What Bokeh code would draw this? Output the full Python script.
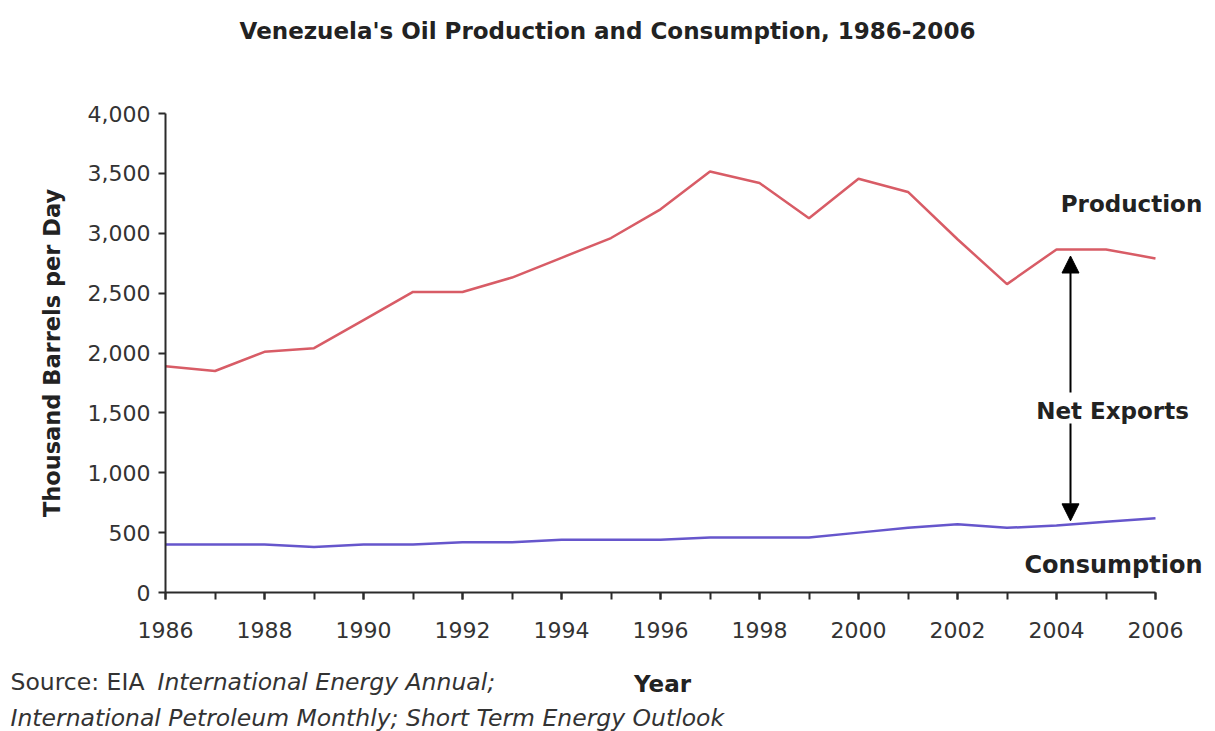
import numpy as np
from bokeh.plotting import figure
from bokeh.layouts import column
from bokeh.models import (Range1d, SingleIntervalTicker, NumeralTickFormatter,
                          Label, Arrow, NormalHead)
from bokeh.embed import file_html
from bokeh.resources import INLINE

# Venezuela oil balance, thousand barrels per day
years = [1986, 1987, 1988, 1989, 1990, 1991, 1992, 1993, 1994, 1995, 1996,
         1997, 1998, 1999, 2000, 2001, 2002, 2003, 2004, 2005, 2006]
production = [1890, 1850, 2010, 2040, 2275, 2510, 2510, 2630, 2795, 2960, 3200,
              3515, 3420, 3125, 3455, 3345, 2950, 2575, 2865, 2865, 2790]
consumption = [400, 400, 400, 380, 400, 400, 420, 420, 440, 440, 440,
               460, 460, 460, 500, 540, 570, 540, 560, 590, 620]

title_text = "Venezuela's Oil Production and Consumption, 1986-2006"
y_title = "Thousand Barrels per Day"
x_title = "Year"
source_lead = "Source: EIA "
source_rest = "International Energy Annual;"
source_line2 = "International Petroleum Monthly; Short Term Energy Outlook"

W = 1215
HEAD_H, MAIN_H, FOOT_H = 100, 560, 71
LEFT = 165                        # frame left edge
FRAME_TOP, FRAME_BOTTOM = 113, 592  # frame edges on the full page
AXIS_RIGHT_PX = 1155              # where the x axis ends on the page
X0, X1, Y0, Y1 = 1986, 2006, 0, 4000

top_border = FRAME_TOP - HEAD_H
bottom_border = HEAD_H + MAIN_H - FRAME_BOTTOM
fh = FRAME_BOTTOM - FRAME_TOP
px_per_year = (AXIS_RIGHT_PX - LEFT) / (X1 - X0)
px_per_unit = fh / (Y1 - Y0)


def dx(px):
    # page pixel column -> year coordinate
    return X0 + (px - LEFT) / px_per_year


def dy(py):
    # page pixel row -> value coordinate
    return Y0 + (FRAME_BOTTOM - py) / px_per_unit


bold = dict(text_font="DejaVu Sans", text_font_style="bold", text_color="#222222",
            text_align="center", text_baseline="middle", text_font_size="23px")


def strip(height, top):
    # plain text strip whose data coordinates are page pixels
    s = figure(width=W, height=height, x_range=Range1d(0, W),
               y_range=Range1d(top + height, top),
               x_axis_type=None, y_axis_type=None,
               output_backend="svg", toolbar_location=None, min_border=0)
    s.frame_align = False
    s.outline_line_color = None
    s.xgrid.visible = False
    s.ygrid.visible = False
    return s


# Header with the chart title
head = strip(HEAD_H, 0)
head.add_layout(Label(x=607, y=30, text=title_text, **bold))

# Main chart
p = figure(width=W, height=MAIN_H,
           x_range=Range1d(X0, dx(W)), y_range=Range1d(Y0, Y1),
           output_backend="svg", toolbar_location=None,
           min_border_left=LEFT, min_border_right=0,
           min_border_top=top_border, min_border_bottom=bottom_border)
p.frame_align = False
p.outline_line_color = None
p.xgrid.visible = False
p.ygrid.visible = False
p.background_fill_color = "white"
p.border_fill_color = "white"

for ax in (p.xaxis[0], p.yaxis[0]):
    ax.axis_line_color = "#2b2b2b"
    ax.axis_line_width = 2
    ax.major_tick_line_color = "#2b2b2b"
    ax.major_tick_line_width = 2
    ax.major_tick_in = 0
    ax.major_tick_out = 7
    ax.major_label_text_font = "DejaVu Sans"
    ax.major_label_text_font_size = "22px"
    ax.major_label_text_color = "#333333"

p.xaxis.bounds = (X0, X1)
p.xaxis.ticker = SingleIntervalTicker(interval=2, num_minor_ticks=2)
p.xaxis.minor_tick_line_color = "#2b2b2b"
p.xaxis.minor_tick_line_width = 2
p.xaxis.minor_tick_in = 0
p.xaxis.minor_tick_out = 7
p.xaxis.major_label_standoff = 22

p.yaxis.ticker = SingleIntervalTicker(interval=500, num_minor_ticks=0)
p.yaxis.minor_tick_line_color = None
p.yaxis.formatter = NumeralTickFormatter(format="0,0")
p.yaxis.major_label_standoff = 8
p.yaxis.axis_label = y_title
p.yaxis.axis_label_text_font = "DejaVu Sans"
p.yaxis.axis_label_text_font_style = "bold"
p.yaxis.axis_label_text_font_size = "22.5px"
p.yaxis.axis_label_text_color = "#222222"
p.yaxis.axis_label_standoff = 20

p.line(years, production, line_color="#d85c66", line_width=2.5)
p.line(years, consumption, line_color="#6656cc", line_width=2.5)

p.add_layout(Label(x=dx(1131), y=dy(203), text="Production", **bold))
p.add_layout(Label(x=dx(1112), y=dy(410), text="Net Exports", **bold))
p.add_layout(Label(x=dx(1113), y=dy(564), text="Consumption",
                   **{**bold, "text_font_size": "24px"}))

# Net exports: gap between the two series, marked with a pair of arrows
ax_year = dx(1070)
prod_at = float(np.interp(ax_year, years, production))
cons_at = float(np.interp(ax_year, years, consumption))
arrow_head = dict(size=17, fill_color="black", line_color="black")
p.add_layout(Arrow(end=NormalHead(**arrow_head), x_start=ax_year, y_start=dy(392),
                   x_end=ax_year, y_end=prod_at - 55,
                   line_color="black", line_width=2))
p.add_layout(Arrow(end=NormalHead(**arrow_head), x_start=ax_year, y_start=dy(423),
                   x_end=ax_year, y_end=cons_at + 30,
                   line_color="black", line_width=2))

# Footer: x axis title and source notes
foot = strip(FOOT_H, HEAD_H + MAIN_H)
foot.add_layout(Label(x=662, y=683, text=x_title, **bold))
src = dict(text_font="DejaVu Sans", text_font_size="23.5px", text_color="#333333",
           text_align="left", text_baseline="middle")
foot.add_layout(Label(x=10, y=681, text=source_lead, **src))
foot.add_layout(Label(x=157, y=681, text=source_rest, text_font_style="italic", **src))
foot.add_layout(Label(x=10, y=717, text=source_line2, text_font_style="italic", **src))

layout = column(head, p, foot, spacing=0)
open("out.html", "w").write(file_html(layout, INLINE))
